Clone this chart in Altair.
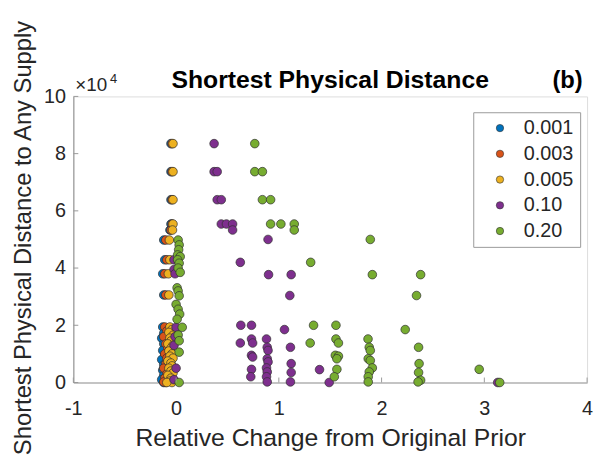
import altair as alt
import pandas as pd

# ---- data (distance in units of 1e4) ----
series_names = ["0.001", "0.003", "0.005", "0.10", "0.20"]
series_colors = ["#0072BD", "#D95319", "#EDB120", "#7E2F8E", "#77AC30"]

blue_x = [-0.05, -0.05, -0.05, -0.05, -0.06, -0.12, -0.11, -0.13, -0.12,
          -0.13, -0.12, -0.14, -0.12, -0.13, -0.11, -0.14, -0.12, -0.13, -0.12, -0.14, -0.12]
blue_y = [8.35, 7.37, 6.39, 5.54, 5.33, 4.98, 4.29, 3.80, 3.06,
          1.94, 1.72, 1.55, 1.35, 1.12, 0.95, 0.80, 0.62, 0.43, 0.25, 0.10, 0.00]

orange_x = [-0.04, -0.04, -0.04, -0.04, -0.05, -0.10, -0.09, -0.11, -0.10,
            -0.11, -0.09, -0.12, -0.10, -0.08, -0.11, -0.09, -0.10, -0.12, -0.09, -0.11, -0.10, -0.12]
orange_y = [8.35, 7.37, 6.39, 5.54, 5.33, 4.98, 4.29, 3.80, 3.06,
            1.94, 1.80, 1.60, 1.35, 1.20, 1.00, 0.85, 0.65, 0.50, 0.30, 0.15, 0.00, 0.02]

yellow_x = [-0.03, -0.03, -0.03, -0.03, -0.035, -0.065, -0.06, -0.075, -0.07,
            -0.06, -0.04, -0.07, -0.03, -0.06, -0.05, -0.08, -0.03, -0.05, -0.07, -0.04,
            -0.06, -0.03, -0.08, -0.05, -0.04, -0.07, -0.05, -0.03, -0.08, -0.05, -0.06,
            -0.04, -0.09]
yellow_y = [8.35, 7.37, 6.39, 5.54, 5.33, 4.98, 4.29, 3.80, 3.06,
            1.94, 1.85, 1.75, 1.65, 1.55, 1.45, 1.35, 1.30, 1.20, 1.10, 1.00,
            0.92, 0.85, 0.75, 0.68, 0.58, 0.50, 0.40, 0.33, 0.25, 0.15, 0.05,
            0.00, 0.00]

purple_x = [-0.02, -0.02, -0.01, 0.00, -0.01, -0.02, 0.00, -0.02,
            0.37, 0.37, 0.40, 0.40, 0.44, 0.44, 0.49, 0.55, 0.55, 0.895, 0.625, 0.90, 1.12, 1.107,
            0.63, 0.734, 1.055, 0.625, 0.734, 0.745, 0.734, 0.745, 0.734, 0.727,
            0.88, 0.887, 0.895, 0.887, 0.895, 0.88, 0.887, 0.88, 0.887,
            1.113, 1.12, 1.12, 1.113, 1.396, 1.49, 3.13]
purple_y = [4.29, 3.95, 3.80, 1.93, 1.60, 1.30, 0.50, 0.10,
            8.35, 7.37, 7.37, 6.39, 6.39, 5.54, 5.54, 5.54, 5.33, 5.00, 4.20, 3.77, 3.77, 3.04,
            2.00, 2.00, 1.85, 1.38, 1.52, 1.38, 0.95, 0.89, 0.46, 0.20,
            1.52, 1.23, 1.12, 0.83, 0.72, 0.51, 0.37, 0.20, 0.02,
            1.23, 0.66, 0.35, 0.02, 0.45, 0.00, 0.00]

green_x = [0.02, 0.03, 0.025, 0.015, 0.04, 0.015, 0.03, 0.02, 0.04, 0.01, 0.02, 0.03,
           0.00, 0.02, 0.035, 0.01, 0.06, 0.02, 0.03, 0.03, 0.03,
           0.766, 0.766, 0.84, 0.84, 0.92, 0.92, 1.02, 1.15, 1.15, 1.31, 1.89, 1.91, 2.38, 2.34,
           1.338, 1.305, 1.556, 1.556, 1.58, 1.55, 1.58, 1.565, 1.565, 1.54,
           1.868, 1.88, 1.89, 1.87, 1.89, 1.91, 1.88, 1.87, 1.87,
           2.23, 2.36, 2.365, 2.36, 2.38, 2.355, 2.95, 3.15]
green_y = [4.98, 4.81, 4.64, 4.46, 4.40, 4.29, 4.17, 4.00, 3.85, 3.31, 3.20, 3.03,
           2.73, 2.56, 2.39, 2.21, 1.93, 1.66, 1.46, 1.06, 0.00,
           8.35, 7.37, 7.37, 6.39, 6.39, 5.54, 5.54, 5.54, 5.33, 4.20, 5.00, 3.77, 3.77, 3.04,
           2.00, 1.38, 2.00, 1.52, 1.38, 0.95, 0.92, 0.83, 0.46, 0.20,
           1.52, 1.23, 1.12, 0.83, 0.77, 0.51, 0.37, 0.20, 0.02,
           1.85, 1.23, 0.66, 0.35, 0.08, 0.02, 0.46, 0.00]

x_ticks = [-1, 0, 1, 2, 3, 4]
y_ticks = [0, 2, 4, 6, 8, 10]

# ---- build table ----
rows = []
order = 0
for name, xs, ys in zip(series_names,
                        [blue_x, orange_x, yellow_x, purple_x, green_x],
                        [blue_y, orange_y, yellow_y, purple_y, green_y]):
    for xv, yv in zip(xs, ys):
        rows.append({"series": name, "x": xv, "y": yv, "ord": order})
        order += 1
df = pd.DataFrame(rows)

FONT = "Liberation Sans"
TXT = "#262626"
AX = "#9a9a9a"
W, H = 519, 289

xscale = alt.Scale(domain=[-1, 4], nice=False, zero=False)
yscale = alt.Scale(domain=[0, 10], nice=False, zero=False)

points = alt.Chart(df).mark_point(
    filled=True, shape="circle", size=76, stroke="#303030", strokeWidth=0.7, opacity=1
).encode(
    x=alt.X("x:Q", scale=xscale,
            axis=alt.Axis(values=x_ticks, ticks=False, tickSize=0, grid=False,
                          domainColor=AX, domainWidth=1.2, labelFontSize=20, labelColor=TXT,
                          labelFont=FONT, labelPadding=16, labelFlush=False,
                          labelExpr="'' + datum.value",
                          title="Relative Change from Original Prior", titleFontSize=25,
                          titleFontWeight="normal", titleColor=TXT, titleFont=FONT,
                          titleBaseline="alphabetic", titleY=64)),
    y=alt.Y("y:Q", scale=yscale,
            axis=alt.Axis(values=y_ticks, ticks=False, tickSize=0, grid=False,
                          domainColor=AX, domainWidth=1.2, labelFontSize=20, labelColor=TXT,
                          labelFont=FONT, labelPadding=8, labelFlush=False,
                          labelExpr="'' + datum.value",
                          title="Shortest Physical Distance to Any Supply", titleFontSize=24,
                          titleFontWeight="normal", titleColor=TXT, titleFont=FONT,
                          titleAngle=270, titleBaseline="alphabetic", titleAlign="center",
                          titleX=-43, titleY=H / 2 - 2)),
    color=alt.Color("series:N",
                    scale=alt.Scale(domain=series_names, range=series_colors),
                    sort=series_names,
                    legend=alt.Legend(title=None, orient="none", legendX=404, legendY=16,
                                      fillColor="white", strokeColor="#9a9a9a", padding=6,
                                      symbolOffset=11, labelOffset=14, rowPadding=6,
                                      labelFontSize=20, labelFont=FONT, labelColor=TXT,
                                      symbolType="circle", symbolSize=55,
                                      symbolStrokeColor="#303030", symbolStrokeWidth=0.6)),
    order=alt.Order("ord:Q"),
)

xt = pd.DataFrame({"v": x_ticks})
yt = pd.DataFrame({"v": y_ticks})
xtick_layer = alt.Chart(xt).mark_rule(color=AX, strokeWidth=1).encode(
    x=alt.X("v:Q", scale=xscale), y=alt.value(H), y2=alt.value(H - 5))
ytick_layer = alt.Chart(yt).mark_rule(color=AX, strokeWidth=1).encode(
    y=alt.Y("v:Q", scale=yscale), x=alt.value(0), x2=alt.value(5))

title_df = pd.DataFrame({"t": ["Shortest Physical Distance"]})
title = alt.Chart(title_df).mark_text(
    font=FONT, fontSize=25, fontWeight="bold", color="#000000", align="center",
    baseline="alphabetic").encode(text="t:N", x=alt.value(W / 2), y=alt.value(-8))
b_df = pd.DataFrame({"t": ["(b)"]})
blabel = alt.Chart(b_df).mark_text(
    font=FONT, fontSize=24, fontWeight="bold", color="#000000", align="left",
    baseline="alphabetic").encode(text="t:N", x=alt.value(484), y=alt.value(-8))
e_df = pd.DataFrame({"t": ["\u00d710"]})
exp_base = alt.Chart(e_df).mark_text(
    font=FONT, fontSize=19, color=TXT, align="left", baseline="alphabetic"
).encode(text="t:N", x=alt.value(2), y=alt.value(-5))
p_df = pd.DataFrame({"t": ["4"]})
exp_pow = alt.Chart(p_df).mark_text(
    font=FONT, fontSize=13, color=TXT, align="left", baseline="alphabetic"
).encode(text="t:N", x=alt.value(37), y=alt.value(-14))

chart = alt.layer(points, xtick_layer, ytick_layer, title, blabel, exp_base, exp_pow).properties(
    width=W, height=H,
    padding={"left": 66, "top": 87, "right": 8, "bottom": 78},
    autosize=alt.AutoSizeParams(type="none"),
).configure_view(stroke=None).configure(font=FONT, background="white")

chart.save("out.html", embed_options={"renderer": "svg", "actions": False})
